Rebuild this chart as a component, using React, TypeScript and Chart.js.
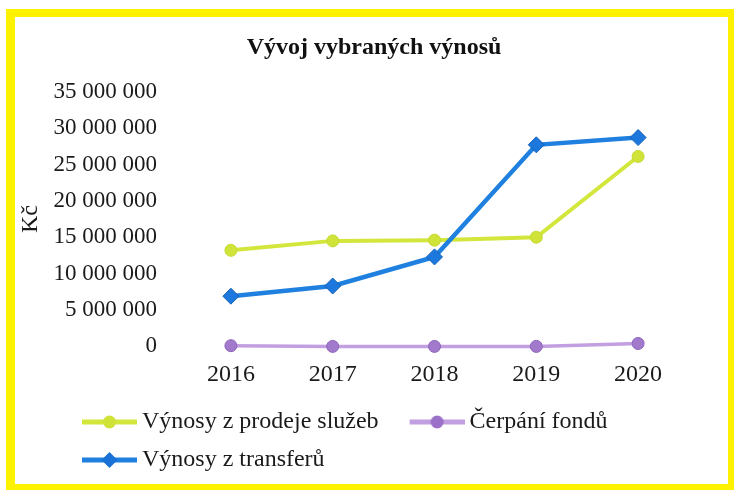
import React, { useEffect, useRef } from 'react';
import { Chart, registerables } from 'chart.js';

Chart.register(...registerables);

const years = ['2016', '2017', '2018', '2019', '2020'];
const sluzby = [13200000, 14500000, 14600000, 15000000, 26100000];
const fondy = [100000, 0, 0, 0, 400000];
const transfery = [6900000, 8300000, 12300000, 27700000, 28700000];
const seriesNames = ['Výnosy z prodeje služeb', 'Čerpání fondů', 'Výnosy z transferů'];
const chartTitle = 'Vývoj vybraných výnosů';
const yAxisTitle = 'Kč';
const yMin = 0;
const yMax = 35000000;
const yStep = 5000000;

const FONT = "'Liberation Serif', 'Times New Roman', serif";

function fmt(v: number): string {
  return String(Math.round(v)).replace(/\B(?=(\d{3})+(?!\d))/g, ' ');
}

function legendImage(lineColor: string, markerColor: string, marker: 'circle' | 'diamond', lineW: number) {
  const c = document.createElement('canvas');
  c.width = 79;
  c.height = 20;
  const g = c.getContext('2d')!;
  g.strokeStyle = lineColor;
  g.lineWidth = lineW;
  g.beginPath();
  g.moveTo(24, 10);
  g.lineTo(79, 10);
  g.stroke();
  const cx = 51.5;
  g.fillStyle = markerColor;
  g.beginPath();
  if (marker === 'circle') {
    g.arc(cx, 10, 6.5, 0, Math.PI * 2);
  } else {
    g.moveTo(cx, 2);
    g.lineTo(cx + 8, 10);
    g.lineTo(cx, 18);
    g.lineTo(cx - 8, 10);
    g.closePath();
  }
  g.fill();
  return c;
}

export default function App() {
  const ref = useRef<HTMLCanvasElement | null>(null);

  useEffect(() => {
    if (!ref.current) return;
    const imgs = [
      legendImage('#d3e63c', '#cfe238', 'circle', 5),
      legendImage('#c29fe0', '#9b70c8', 'circle', 5),
      legendImage('#1f80e0', '#1a72d6', 'diamond', 5),
    ];

    const legendShift = {
      id: 'legendShift',
      afterLayout(chart: any) {
        const l = chart.legend;
        if (l) {
          l.left += 36;
          l.right += 36;
        }
      },
    };

    const chart = new Chart(ref.current, {
      type: 'line',
      data: {
        labels: years,
        datasets: [
          {
            label: seriesNames[0],
            data: sluzby,
            borderColor: '#d3e63c',
            backgroundColor: '#d3e63c',
            borderWidth: 4,
            pointStyle: 'circle',
            pointRadius: 6,
            pointBackgroundColor: '#d0e338',
            pointBorderColor: '#c6d932',
            pointBorderWidth: 1,
            order: 2,
            clip: false,
          } as any,
          {
            label: seriesNames[1],
            data: fondy,
            borderColor: '#c29fe0',
            backgroundColor: '#c29fe0',
            borderWidth: 3.5,
            pointStyle: 'circle',
            pointRadius: 6,
            pointBackgroundColor: '#a27acc',
            pointBorderColor: '#8e63bb',
            pointBorderWidth: 1,
            order: 3,
            clip: false,
          } as any,
          {
            label: seriesNames[2],
            data: transfery,
            borderColor: '#1f80e0',
            backgroundColor: '#1f80e0',
            borderWidth: 4.5,
            pointStyle: 'rectRot',
            pointRadius: 8,
            pointBackgroundColor: '#1c78dc',
            pointBorderColor: '#1560b8',
            pointBorderWidth: 1,
            order: 1,
            clip: false,
          } as any,
        ],
      },
      options: {
        responsive: false,
        animation: false,
        layout: { padding: 0 },
        plugins: {
          title: {
            display: true,
            text: chartTitle,
            color: '#111',
            font: { family: FONT, size: 24, weight: 'bold', lineHeight: 1.2 },
            padding: { top: 25.6, bottom: 29.3 },
          },
          legend: {
            display: true,
            position: 'bottom',
            align: 'start',
            labels: {
              usePointStyle: true,
              pointStyleWidth: 65,
              padding: 14,
              color: '#1a1a1a',
              font: { family: FONT, size: 24 },
              sort: (a: any, b: any) => a.datasetIndex - b.datasetIndex,
              generateLabels: (ch: any) => {
                const base = (Chart.defaults.plugins.legend.labels as any).generateLabels(ch);
                return base.map((it: any) => ({ ...it, pointStyle: imgs[it.datasetIndex] }));
              },
            },
          },
          tooltip: { enabled: false },
        },
        scales: {
          x: {
            type: 'category',
            offset: true,
            grid: { display: false, drawTicks: false },
            border: { display: false },
            ticks: {
              color: '#1a1a1a',
              padding: 16,
              font: { family: FONT, size: 24, lineHeight: 1.025 },
            },
            afterFit: (s: any) => {
              s.height = s.height - 7;
            },
          },
          y: {
            type: 'linear',
            position: 'left',
            min: yMin,
            max: yMax,
            grid: { display: false, drawTicks: false },
            border: { display: false },
            ticks: {
              stepSize: yStep,
              color: '#1a1a1a',
              padding: 23,
              font: { family: FONT, size: 23 },
              callback: (v: any) => fmt(Number(v)),
            },
            title: {
              display: true,
              text: yAxisTitle,
              color: '#1a1a1a',
              font: { family: FONT, size: 24, lineHeight: 1.2 },
              padding: { top: 1, bottom: 9 },
            },
            afterFit: (s: any) => {
              s.width = 165;
            },
          },
          yRight: {
            type: 'linear',
            position: 'right',
            display: true,
            grid: { display: false, drawTicks: false },
            border: { display: false },
            ticks: { display: false },
            afterFit: (s: any) => {
              s.width = 44;
            },
          },
        },
      } as any,
      plugins: [legendShift],
    });
    return () => chart.destroy();
  }, []);

  return (
    <>
      <div
        style={{
          position: 'absolute',
          left: 6,
          top: 9,
          width: 728,
          height: 481,
          boxSizing: 'border-box',
          borderStyle: 'solid',
          borderColor: '#fff200',
          borderWidth: '8px 6px 6px 9px',
        }}
      />
      <div style={{ position: 'absolute', left: 15, top: 8, width: 718, height: 482, overflow: 'hidden' }}>
        <canvas ref={ref} width={718} height={474} style={{ display: 'block', width: 718, height: 474 }} />
      </div>
    </>
  );
}
